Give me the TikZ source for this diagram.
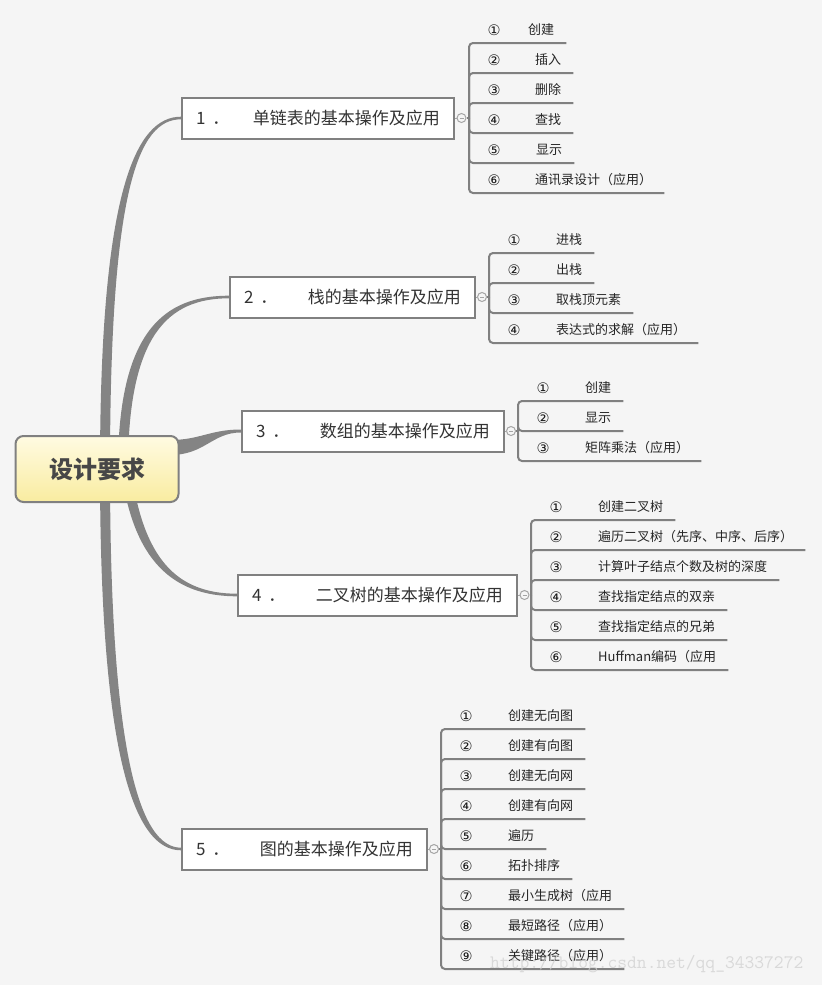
\documentclass[tikz,border=0pt]{standalone}
\usepackage{fontspec}
\setmainfont{Noto Sans CJK SC}
\newfontfamily\numfont{DejaVu Sans}
\usetikzlibrary{calc}
\definecolor{bggray}{RGB}{245,245,245}
\definecolor{linkgray}{RGB}{132,132,132}
\definecolor{boxgray}{RGB}{128,128,128}
\definecolor{textdark}{RGB}{51,51,51}
\definecolor{topictop}{RGB}{255,251,226}
\definecolor{topicbot}{RGB}{249,236,160}
\definecolor{hubgray}{RGB}{165,165,165}
\definecolor{markgray}{RGB}{210,210,210}

\begin{document}
\begin{tikzpicture}[x=1pt,y=-1pt,
  topic/.style={draw=boxgray,line width=2pt,rounded corners=8pt,top color=topictop,bottom color=topicbot,
    minimum width=163pt,minimum height=66pt,text=textdark!90,font=\fontsize{24pt}{28pt}\selectfont\bfseries},
  branchbox/.style={draw=boxgray,line width=2pt,fill=white,anchor=west,minimum height=41pt,inner xsep=14pt,
    text=textdark,font=\fontsize{17pt}{20pt}\selectfont},
  hub/.style={circle,draw=hubgray,fill=bggray,line width=1pt,minimum size=9pt,inner sep=0pt},
  numtext/.style={inner sep=0pt,text=black!90,font=\numfont\fontsize{14.5pt}{16pt}\selectfont},
  itemtext/.style={inner sep=0pt,anchor=west,text=black!85,font=\fontsize{13pt}{15pt}\selectfont},
  childline/.style={draw=boxgray,line width=2pt,rounded corners=4pt}]
\fill[bggray] (0,0) rectangle (822,985);
\useasboundingbox (0,0) rectangle (822,985);

% the five branches
\node[branchbox] (b1) at (181,118) {\makebox[57pt][l]{1\hspace{7pt}．}单链表的基本操作及应用};
\node[branchbox] (b2) at (229,297) {\makebox[64pt][l]{2\hspace{7pt}．}栈的基本操作及应用};
\node[branchbox] (b3) at (241,431) {\makebox[64pt][l]{3\hspace{7pt}．}数组的基本操作及应用};
\node[branchbox] (b4) at (237,595) {\makebox[64pt][l]{4\hspace{7pt}．}二叉树的基本操作及应用};
\node[branchbox] (b5) at (181,849) {\makebox[64pt][l]{5\hspace{7pt}．}图的基本操作及应用};

% thick links from the centre
\coordinate (c) at (97,469);
\fill[linkgray] ($(c)+(3,0)$) .. controls (100,190) and (136,116.7) .. ($(b1.west)+(0,-1.3)$)
  -- ($(b1.west)+(0,1.3)$) .. controls (138,119.3) and (110,190) .. ($(c)+(13,0)$) -- cycle;
\fill[linkgray] ($(c)+(21,0)$) .. controls (118,330) and (165,295.7) .. ($(b2.west)+(0,-1.3)$)
  -- ($(b2.west)+(0,1.3)$) .. controls (168,298.3) and (128,335) .. ($(c)+(31,0)$) -- cycle;
\fill[linkgray] ($(c)+(73,-29)$) .. controls (200,440) and (210,429.5) .. ($(b3.west)+(0,-1.5)$)
  -- ($(b3.west)+(0,1.5)$) .. controls (212,432.5) and (205,455) .. ($(c)+(73,-14)$) -- cycle;
\fill[linkgray] ($(c)+(24,0)$) .. controls (133,560) and (172,596.3) .. ($(b4.west)+(0,1.3)$)
  -- ($(b4.west)+(0,-1.3)$) .. controls (176,593.7) and (143,558) .. ($(c)+(34,0)$) -- cycle;
\fill[linkgray] ($(c)+(3,0)$) .. controls (100,760) and (135,850.3) .. ($(b5.west)+(0,1.3)$)
  -- ($(b5.west)+(0,-1.3)$) .. controls (140,847.7) and (110,755) .. ($(c)+(13,0)$) -- cycle;

\node[topic] (t) at (c) {设计要求};

% collapse marks and junctions
\node[hub] (h1) at (461.5,118) {\textcolor{hubgray}{\rule{4pt}{0.8pt}}};
\node[hub] (h2) at (482,297) {\textcolor{hubgray}{\rule{4pt}{0.8pt}}};
\node[hub] (h3) at (511,431) {\textcolor{hubgray}{\rule{4pt}{0.8pt}}};
\node[hub] (h4) at (524.5,595) {\textcolor{hubgray}{\rule{4pt}{0.8pt}}};
\node[hub] (h5) at (434,849) {\textcolor{hubgray}{\rule{4pt}{0.8pt}}};
\coordinate (j1) at (469,118);
\coordinate (j2) at (489,297);
\coordinate (j3) at (518,431);
\coordinate (j4) at (531,595);
\coordinate (j5) at (441,849);
\foreach \k in {1,...,5} {
  \draw[hubgray,line width=1pt] (b\k.east) -- (h\k.west);
  \draw[childline] (h\k.east) -- (j\k);
}

% children of branch 1
\foreach \tx/\num/\txt [count=\i] in {528/①/创建,535/②/插入,535/③/删除,535/④/查找,536/⑤/显示,535/⑥/通讯录设计（应用）} {
  \node[numtext] (n1-\i) at (494,{30*\i}) {\num};
  \node[itemtext] (t1-\i) at (\tx,{30*\i}) {\txt};
  \draw[childline] (j1) |- ($(t1-\i.east)+(12,13)$);
}
% children of branch 2
\foreach \num/\txt [count=\i] in {①/进栈,②/出栈,③/取栈顶元素,④/表达式的求解（应用）} {
  \node[numtext] (n2-\i) at (514,{210+30*\i}) {\num};
  \node[itemtext] (t2-\i) at (556,{210+30*\i}) {\txt};
  \draw[childline] (j2) |- ($(t2-\i.east)+(12,13)$);
}
% children of branch 3
\foreach \num/\txt [count=\i] in {①/创建,②/显示,③/矩阵乘法（应用）} {
  \node[numtext] (n3-\i) at (543,{358+30*\i}) {\num};
  \node[itemtext] (t3-\i) at (585,{358+30*\i}) {\txt};
  \draw[childline] (j3) |- ($(t3-\i.east)+(12,13)$);
}
% children of branch 4
\foreach \num/\txt [count=\i] in {①/创建二叉树,②/遍历二叉树（先序、中序、后序）,③/计算叶子结点个数及树的深度,
    ④/查找指定结点的双亲,⑤/查找指定结点的兄弟,⑥/Huffman编码（应用} {
  \node[numtext] (n4-\i) at (556,{477+30*\i}) {\num};
  \node[itemtext] (t4-\i) at (598,{477+30*\i}) {\txt};
  \draw[childline] (j4) |- ($(t4-\i.east)+(12,13)$);
}
% children of branch 5
\foreach \num/\txt [count=\i] in {①/创建无向图,②/创建有向图,③/创建无向网,④/创建有向网,⑤/遍历,⑥/拓扑排序,
    ⑦/最小生成树（应用,⑧/最短路径（应用）,⑨/关键路径（应用）} {
  \node[numtext] (n5-\i) at (466,{686+30*\i}) {\num};
  \node[itemtext] (t5-\i) at (508,{686+30*\i}) {\txt};
  \draw[childline] (j5) |- ($(t5-\i.east)+(12,13)$);
}

\node[anchor=west,inner sep=0pt,text=markgray,opacity=0.8,font=\ttfamily\fontsize{19pt}{21pt}\selectfont] (wm) at (490,964) {http://blog.csdn.net/qq\_34337272};
\end{tikzpicture}
\end{document}
